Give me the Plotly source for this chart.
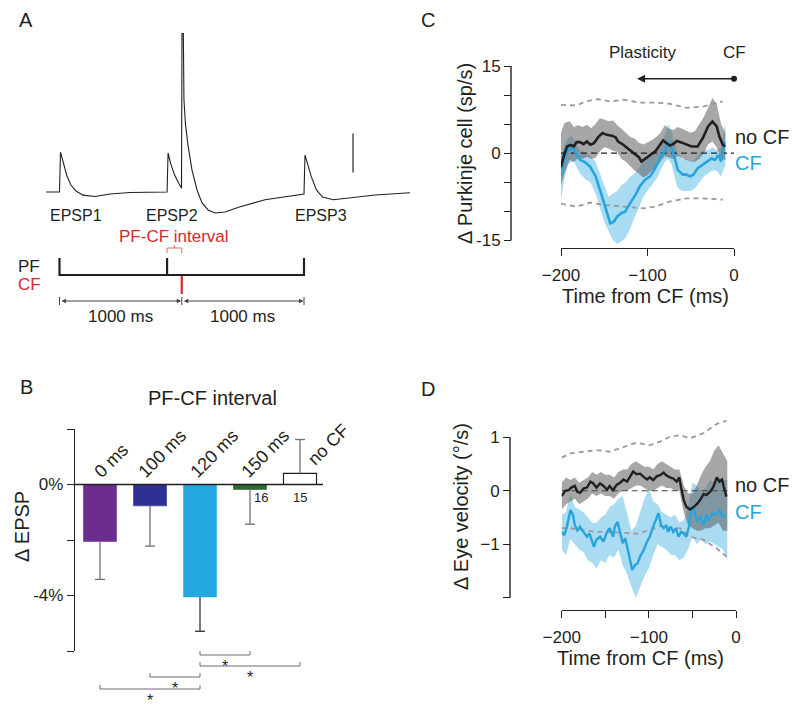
import plotly.graph_objects as go

# The page body has an 8px margin, so the figure is sized to fill the rest of the window.
OFF = 8
W, H = 800 - OFF, 710 - OFF
def fx(x): return (x - OFF) / W
def fy(y): return 1 - (y - OFF) / H

FONT = "Liberation Sans, Arial, Helvetica, sans-serif"
INK = "#231f20"
RED = "#d7282f"
BLUE = "#27a4dd"
BLUE_BAND = "#a9dcf2"
GRAY_BAND = "rgba(95,95,95,0.55)"
GRAY_DASH = "#9a9a9a"

# ---------------- data ----------------
# Panel A: example Purkinje cell recording (time in ms, potential in mV)
trace_t = [-110, 0, 8, 20, 37, 61, 94, 135, 192, 290, 413, 577, 880, 888, 908, 941, 974, 998, 1002, 1013,
           1018, 1031, 1051, 1084, 1125, 1166, 1215, 1272, 1354, 1477, 1681, 1968, 2000, 2008, 2028, 2061,
           2102, 2151, 2241, 2380, 2581, 2867]
trace_v = [0, 0, 5.1, 4.4, 3.3, 2.05, 0.9, 0.13, -0.4, -0.58, -0.26, -0.06, 0, 5.0, 3.7, 2.2, 1.15, 0.5, 20.3, 20.3,
           11.8, 8.6, 6.0, 2.8, 0.26, -1.4, -2.3, -2.7, -2.56, -1.9, -1.0, -0.4, -0.26, 4.74, 3.7, 1.9,
           0.26, -0.64, -1.0, -0.77, -0.38, -0.1]
epsp_labels = ["EPSP1", "EPSP2", "EPSP3"]
pf_times = [0, 880, 2000]
cf_times = [1000]
scale_bar_mv = 5

# Panel B: change in EPSP by PF-CF interval
intervals = ["0 ms", "100 ms", "120 ms", "150 ms", "no CF"]
epsp_change = [-2.05, -0.77, -4.05, -0.18, 0.4]
epsp_sem = [1.37, 1.45, 1.24, 1.25, 1.22]
n_labels = ["", "", "", "16", "15"]
sig_pairs = [(2, 3), (2, 4), (1, 2), (0, 2)]
b_ticks = [-6, -4, -2, 0, 2]
b_ticktext = ["", "-4%", "", "0%", ""]

# Panel C: Purkinje cell simple spikes
c_nocf_t = [-200, -197, -193, -189, -185, -182, -178, -174, -170, -166, -162, -157, -152, -147, -141, -137, -134,
            -128, -122, -116, -110, -107, -103, -97, -91, -87, -82, -78, -74, -70, -66, -61, -55, -49, -42, -36,
            -30, -25, -20, -17, -13, -10]
c_nocf_v = [-2.4, -0.6, 1.15, 1.4, 1.15, 1.9, 1.9, 1.55, 2.0, 1.45, 1.7, 2.75, 3.45, 3.15, 3.0, 2.75, 2.0,
            1.45, 0.7, 0, -0.7, -1.45, -1.0, -0.3, 0.3, 1.15, 2.2, 1.7, 1.3, 1.6, 2.1, 1.85, 1.45, 1.15, 1.15, 2.6,
            4.6, 5.45, 4.6, 2.9, 1.45, 1.15]
c_nocf_band_t = [-200, -196, -190, -185, -180, -175, -170, -165, -160, -155, -150, -145, -140, -135, -130, -125,
                 -120, -115, -110, -105, -100, -95, -90, -85, -80, -75, -70, -65, -60, -55, -50, -45, -40, -35,
                 -30, -25, -20, -15, -10]
c_nocf_hi = [3.5, 5.2, 5.5, 4.5, 4.8, 4.5, 4.9, 4.3, 5.0, 6.0, 5.8, 5.5, 5.6, 4.8, 4.2, 3.5, 2.8, 2.5, 1.8, 1.5,
             1.8, 2.2, 2.8, 3.5, 4.8, 4.2, 4.0, 4.5, 4.2, 3.8, 3.5, 3.8, 5.0, 6.2, 7.8, 9.5, 8.5, 5.0, 3.5]
c_nocf_lo = [-5.5, -3.5, -1.2, -1.5, -0.8, -1.0, -0.6, -1.0, -0.8, 0.3, 1.0, 0.8, 0.4, 0.2, -1.0, -1.5, -2.2,
             -3.0, -3.5, -4.2, -3.8, -3.0, -2.5, -1.5, -0.5, -0.8, -1.0, -0.5, -0.8, -1.2, -1.5, -1.5, -1.0, 0,
             1.5, 2.0, 1.0, -1.0, -1.2]
c_cf_t = [-200, -197, -193, -189, -185, -182, -178, -172, -166, -160, -155, -149, -143, -139, -135, -130, -126,
          -120, -114, -109, -103, -97, -91, -86, -80, -76, -72, -68, -65, -59, -55, -51, -47, -42, -36, -30, -26,
          -22, -18, -15, -11]
c_cf_v = [-3.9, -1.45, 0.3, 0.9, 0.6, -0.3, -1.15, -1.6, -2.4, -4.0, -6.3, -9.2, -12.1, -11.8, -10.9, -10.3,
          -10.1, -8.6, -7.2, -5.75, -4.6, -4.0, -2.6, -0.9, 0.3, 2.0, 0.9, -1.15, -2.9, -3.7, -3.7, -4.0, -3.7,
          -2.6, -2.0, -1.45, -0.9, -1.15, -0.3, -1.45, 2.0]
c_cf_band_t = [-200, -196, -192, -188, -185, -182, -178, -172, -166, -160, -155, -150, -145, -140, -135, -130,
               -125, -120, -115, -110, -105, -100, -95, -90, -85, -80, -76, -72, -68, -65, -60, -55, -50, -45,
               -40, -35, -30, -25, -20, -15, -10]
c_cf_hi = [-1.0, 1.5, 2.5, 3.0, 2.5, 1.5, 0.5, 0.2, -0.5, -1.5, -3.5, -5.5, -7.5, -7.0, -6.5, -5.5, -5.0, -4.0,
           -3.5, -2.5, -1.5, -1.0, -0.5, 0.5, 1.5, 3.0, 5.0, 3.5, 1.5, 0, -1.0, -1.0, -1.5, -1.0, 0, 0.5, 0.5,
           1.0, 0.5, 1.0, 5.5]
c_cf_lo = [-8.0, -4.5, -2.0, -1.5, -1.5, -2.5, -3.5, -4.5, -5.0, -7.0, -9.5, -11.8, -13.5, -15.0, -15.6, -15.2,
           -14.5, -13.0, -11.0, -9.5, -7.5, -6.5, -5.5, -4.5, -3.0, -1.5, -1.0, -2.0, -4.5, -6.0, -6.5, -6.5,
           -6.5, -6.0, -5.0, -4.0, -3.5, -3.0, -3.0, -4.0, -2.0]
c_ci_hi_t = [-200, -182, -172, -158, -143, -128, -109, -90, -74, -55, -36, -13]
c_ci_hi = [8.3, 8.2, 8.9, 9.3, 8.9, 9.2, 8.7, 8.7, 8.5, 7.8, 8.0, 8.9]
c_ci_lo_t = [-200, -182, -166, -151, -128, -105, -90, -74, -55, -36, -13]
c_ci_lo = [-8.7, -9.2, -8.5, -8.9, -9.2, -9.5, -9.2, -8.3, -7.8, -7.8, -8.0]
plasticity_window = [-112, 0]
c_yticks = [-15, -10, -5, 0, 5, 10, 15]
c_yticktext = ["-15", "", "", "0", "", "", "15"]
c_xticks = [-200, -100, 0]
c_xticktext = ["\u2212200", "\u2212100", "0"]

# Panel D: eye velocity
d_nocf_t = [-200, -196, -192, -189, -185, -182, -179, -175, -171, -167, -164, -160, -156, -152, -148, -145, -141,
            -137, -133, -129, -125, -122, -118, -114, -110, -106, -102, -99, -95, -91, -87, -83, -80, -76, -72,
            -68, -65, -63, -60, -57, -53, -49, -45, -41, -37, -34, -30, -26, -22, -19, -16, -14, -11]
d_nocf_v = [-0.10, 0, 0.01, 0.06, 0.09, -0.02, -0.04, 0.04, 0.06, 0.17, 0.14, 0.06, 0.14, 0.09, 0.02, 0.09, 0.01,
            0.11, 0.15, 0.21, 0.17, 0.26, 0.36, 0.31, 0.32, 0.26, 0.21, 0.25, 0.2, 0.27, 0.29, 0.34, 0.29, 0.25,
            0.23, 0.17, 0.25, 0.06, -0.17, -0.3, -0.35, -0.31, -0.25, -0.17, -0.06, -0.08, -0.02, 0.07, 0.25,
            0.17, 0.21, 0.07, -0.11]
d_band_t = [-200, -195, -190, -185, -180, -175, -170, -165, -160, -155, -150, -145, -140, -135, -130, -125, -120,
            -115, -110, -105, -100, -95, -90, -85, -80, -75, -70, -65, -60, -55, -50, -45, -40, -35, -30, -25,
            -20, -15, -10]
d_nocf_hi = [0.15, 0.25, 0.2, 0.25, 0.15, 0.2, 0.25, 0.35, 0.3, 0.35, 0.3, 0.3, 0.25, 0.35, 0.4, 0.4, 0.5, 0.55,
             0.5, 0.45, 0.45, 0.4, 0.5, 0.55, 0.5, 0.45, 0.4, 0.4, 0.1, -0.05, -0.05, 0.1, 0.3, 0.45, 0.55, 0.75,
             0.85, 0.7, 0.55]
d_nocf_lo = [-0.35, -0.25, -0.2, -0.15, -0.25, -0.2, -0.15, -0.05, -0.1, -0.05, -0.1, -0.1, -0.15, -0.05, 0, 0,
             0.05, 0.1, 0.1, 0.05, 0, 0, 0.05, 0.1, 0.05, 0.05, 0, 0, -0.4, -0.65, -0.7, -0.75, -0.75, -0.7, -0.7,
             -0.65, -0.6, -0.75, -0.75]
d_cf_t = [-200, -197, -194, -190, -187, -185, -182, -179, -175, -171, -168, -166, -163, -160, -156, -152, -148,
          -145, -141, -139, -136, -133, -130, -127, -125, -122, -119, -116, -113, -110, -106, -102, -99, -95, -91,
          -89, -86, -83, -80, -78, -75, -72, -69, -66, -63, -60, -57, -54, -51, -48, -45, -41, -37, -34, -31,
          -27, -23, -19, -15, -11]
d_cf_v = [-0.77, -0.83, -0.67, -0.36, -0.45, -0.64, -0.74, -0.67, -0.77, -0.86, -0.8, -0.92, -1.05, -0.91, -0.86,
          -0.95, -0.77, -0.7, -0.86, -0.67, -0.58, -0.77, -0.98, -0.89, -1.05, -1.23, -1.48, -1.39, -1.36, -1.23,
          -1.11, -0.95, -0.86, -0.67, -0.49, -0.42, -0.64, -0.7, -0.64, -0.77, -0.67, -0.77, -0.7, -0.86, -0.77,
          -0.8, -0.86, -0.67, -0.3, -0.36, -0.55, -0.49, -0.64, -0.45, -0.55, -0.42, -0.45, -0.36, -0.49, -0.45]
d_cf_hi = [-0.45, -0.4, -0.05, -0.3, -0.35, -0.4, -0.5, -0.6, -0.6, -0.5, -0.45, -0.3, -0.25, -0.15, -0.1, -0.45,
           -0.75, -0.65, -0.4, -0.15, 0.05, -0.2, -0.25, -0.4, -0.45, -0.5, -0.45, -0.6, -0.55, -0.3, 0.15, 0.1,
           0.0, 0.05, 0.2, 0.15, 0.25, 0.2, 0.2]
d_cf_lo = [-1.1, -1.2, -0.9, -1.0, -1.1, -1.15, -1.3, -1.35, -1.45, -1.3, -1.35, -1.2, -1.25, -1.1, -1.4, -1.55,
           -1.8, -2.0, -1.8, -1.6, -1.45, -1.2, -1.0, -1.05, -1.1, -1.2, -1.2, -1.3, -1.25, -1.1, -0.85, -1.0,
           -0.9, -1.0, -0.95, -1.0, -1.05, -1.1, -1.3]
d_ci_t = [-200, -190, -175, -160, -145, -129, -114, -99, -87, -76, -64, -53, -37, -22, -11]
d_ci_hi = [0.62, 0.70, 0.73, 0.76, 0.73, 0.82, 0.9, 0.85, 0.92, 1.01, 1.04, 0.98, 1.08, 1.25, 1.31]
d_ci_lo = [-0.70, -0.70, -0.74, -0.77, -0.77, -0.78, -0.8, -0.74, -0.66, -0.7, -0.7, -0.86, -0.92, -1.08, -1.23]
d_yticks = [-2, -1, 0, 1]
d_yticktext = ["", "\u22121", "0", "1"]
d_xticks = [-200, -150, -100, -50, 0]
d_xticktext = ["\u2212200", "", "\u2212100", "", "0"]

bar_colors = ["#6b2d8e", "#2e3191", "#25a8e0", "#2d6a32", "#ffffff"]
err_colors = ["#707070", "#707070", "#333333", "#707070", "#707070"]

# ---------------- figure ----------------
fig = go.Figure()
ann = []
shapes = []

def txt(x, y, s, size=17, color=INK, xref="paper", yref="paper", **kw):
    d = dict(x=x, y=y, text=s, showarrow=False, xref=xref, yref=yref, xanchor="center", yanchor="middle",
             font=dict(family=FONT, size=size, color=color))
    d.update(kw)
    ann.append(d)

# ---- Panel A trace
fig.add_trace(go.Scatter(x=trace_t, y=trace_v, mode="lines", xaxis="x", yaxis="y",
                         line=dict(color=INK, width=1.1), hoverinfo="skip"))
sb_t = 2401
fig.add_trace(go.Scatter(x=[sb_t, sb_t], y=[2.5, 2.5 + scale_bar_mv], mode="lines", xaxis="x", yaxis="y",
                         line=dict(color=INK, width=1.2), hoverinfo="skip"))
for lab, xp in zip(epsp_labels, [76, 172, 321]):
    txt(fx(xp), fy(215), lab, size=16)

# ---- Panel A timeline (y2 values are vertical pixel rows)
ROW_PF, ROW_CF0, ROW_CF1, ROW_AR = 275, 276, 294, 301
fig.add_trace(go.Scatter(x=[pf_times[0], pf_times[-1]], y=[ROW_PF, ROW_PF], mode="lines", xaxis="x", yaxis="y2",
                         line=dict(color=INK, width=2.2), hoverinfo="skip"))
tx, ty = [], []
for t in pf_times:
    tx += [t, t, None]; ty += [258, ROW_PF + 1, None]
fig.add_trace(go.Scatter(x=tx, y=ty, mode="lines", xaxis="x", yaxis="y2",
                         line=dict(color=INK, width=2.2), hoverinfo="skip"))
cx, cy = [], []
for t in cf_times:
    cx += [t, t, None]; cy += [ROW_CF0, ROW_CF1, None]
fig.add_trace(go.Scatter(x=cx, y=cy, mode="lines", xaxis="x", yaxis="y2",
                         line=dict(color=RED, width=2.2), hoverinfo="skip"))
# PF-CF interval bracket
p2, c1 = pf_times[1], cf_times[0]
fig.add_trace(go.Scatter(x=[p2, p2, c1, c1, None, (p2 + c1) / 2, (p2 + c1) / 2],
                         y=[253, 248, 248, 253, None, 248, 245], mode="lines", xaxis="x", yaxis="y2",
                         line=dict(color="#e26a6a", width=1), hoverinfo="skip"))
txt((p2 + c1) / 2, 237, "PF-CF interval", size=17, color=RED, xref="x", yref="y2")
txt(fx(29), 267, "PF", size=17, yref="y2")
txt(fx(29), 285, "CF", size=17, color=RED, yref="y2")
# interval arrows
segs = [(pf_times[0], cf_times[0]), (cf_times[0], pf_times[-1])]
ex, ey = [], []
for a, b in segs:
    ann.append(dict(x=b - 4, y=ROW_AR, ax=a + 4, ay=ROW_AR, xref="x", yref="y2", axref="x", ayref="y2",
                    text="", showarrow=True, arrowhead=2, arrowside="end+start", arrowsize=0.9,
                    arrowwidth=1, arrowcolor="#444444"))
    txt((a + b) / 2, 317, f"{b - a} ms", size=17, xref="x", yref="y2")
for t in [pf_times[0], cf_times[0], pf_times[-1]]:
    ex += [t, t, None]; ey += [297, 305, None]
fig.add_trace(go.Scatter(x=ex, y=ey, mode="lines", xaxis="x", yaxis="y2",
                         line=dict(color="#444444", width=1), hoverinfo="skip"))

# ---- Panel B bars
xi = list(range(len(intervals)))
fig.add_trace(go.Bar(x=xi, y=epsp_change, width=0.66, xaxis="x2", yaxis="y3",
                     marker=dict(color=bar_colors, line=dict(color=[c if c != "#ffffff" else INK for c in bar_colors],
                                                             width=[0.6, 0.6, 0.6, 0.6, 1.2])),
                     hoverinfo="skip"))
for i, (v, s) in enumerate(zip(epsp_change, epsp_sem)):
    end = v + s if v > 0 else v - s
    fig.add_trace(go.Scatter(x=[i, i, None, i - 0.1, i + 0.1], y=[v, end, None, end, end], mode="lines",
                             xaxis="x2", yaxis="y3", line=dict(color=err_colors[i], width=1.3),
                             hoverinfo="skip", cliponaxis=False))
shapes.append(dict(type="line", xref="x2 domain", yref="y3", x0=0, x1=1, y0=0, y1=0,
                   line=dict(color=INK, width=1.5)))
lab_pos = [(111, 461), (162, 454), (214, 454), (265, 454), (328, 445)]
for lab, (xp, yp) in zip(intervals, lab_pos):
    txt(fx(xp), fy(yp), lab, size=18, textangle=-45)
for i, n in enumerate(n_labels):
    if n:
        txt(i, fy(497), n, size=13, xref="x2", xshift=11 if epsp_change[i] < 0 else 0)
levels = [655, 666, 677, 689]
for (a, b), lv in zip(sig_pairs, levels):
    for x0, y0, x1, y1 in [(a, fy(lv), b, fy(lv)), (a, fy(lv), a, fy(lv - 4)), (b, fy(lv), b, fy(lv - 4))]:
        shapes.append(dict(type="line", xref="x2", yref="paper", x0=x0, y0=y0, x1=x1, y1=y1,
                           line=dict(color="#6d6d6d", width=1)))
    txt((a + b) / 2, fy(lv + 1), "*", size=16, xref="x2", yanchor="top")
txt(fx(213), fy(398), "PF-CF interval", size=20)
txt(fx(22), fy(527), "\u0394 EPSP", size=20, textangle=-90)

# ---- Panel C
def band(t, hi, lo, color, xa, ya):
    fig.add_trace(go.Scatter(x=list(t) + list(t)[::-1], y=list(hi) + list(lo)[::-1], fill="toself",
                             fillcolor=color, line=dict(width=0), mode="lines", xaxis=xa, yaxis=ya,
                             hoverinfo="skip"))

def line(t, v, color, width, xa, ya, dash=None):
    fig.add_trace(go.Scatter(x=t, y=v, mode="lines", xaxis=xa, yaxis=ya,
                             line=dict(color=color, width=width, dash=dash), hoverinfo="skip"))

band(c_cf_band_t, c_cf_hi, c_cf_lo, BLUE_BAND, "x3", "y4")
band(c_nocf_band_t, c_nocf_hi, c_nocf_lo, GRAY_BAND, "x3", "y4")
line(c_ci_hi_t, c_ci_hi, GRAY_DASH, 1.8, "x3", "y4", dash="5px,4px")
line(c_ci_lo_t, c_ci_lo, GRAY_DASH, 1.8, "x3", "y4", dash="5px,4px")
line([-200, 0], [0, 0], INK, 1.2, "x3", "y4", dash="6px,4px")
line(c_cf_t, c_cf_v, BLUE, 2.6, "x3", "y4")
line(c_nocf_t, c_nocf_v, INK, 2.6, "x3", "y4")
shapes.append(dict(type="line", xref="paper", yref="y4", x0=fx(511), x1=fx(511), y0=c_yticks[0], y1=c_yticks[-1],
                   line=dict(color=INK, width=1.4)))
# plasticity arrow
pw_y = 12.8
ann.append(dict(x=plasticity_window[0], y=pw_y, ax=plasticity_window[1], ay=pw_y, xref="x3", yref="y4",
                axref="x3", ayref="y4", text="", showarrow=True, arrowhead=2, arrowsize=1, arrowwidth=1.6,
                arrowcolor=INK))
fig.add_trace(go.Scatter(x=[plasticity_window[1]], y=[pw_y], mode="markers", xaxis="x3", yaxis="y4",
                         marker=dict(color=INK, size=6), cliponaxis=False, hoverinfo="skip"))
txt(-105, fy(53), "Plasticity", size=17, xref="x3")
txt(0, fy(53), "CF", size=17, xref="x3")
txt(fx(733), fy(137), "no CF", size=20, xanchor="left")
txt(fx(733), fy(163), "CF", size=20, color=BLUE, xanchor="left")
txt(fx(465), fy(154), "\u0394 Purkinje cell (sp/s)", size=20, textangle=-90)
txt(fx(645), fy(296), "Time from CF (ms)", size=20)

# ---- Panel D
band(d_band_t, d_cf_hi, d_cf_lo, BLUE_BAND, "x4", "y5")
band(d_band_t, d_nocf_hi, d_nocf_lo, GRAY_BAND, "x4", "y5")
line(d_ci_t, d_ci_hi, GRAY_DASH, 1.8, "x4", "y5", dash="5px,4px")
line(d_ci_t, d_ci_lo, GRAY_DASH, 1.8, "x4", "y5", dash="5px,4px")
line([-200, -10], [0, 0], "#444444", 1.2, "x4", "y5", dash="6px,4px")
line(d_cf_t, d_cf_v, BLUE, 2.4, "x4", "y5")
line(d_nocf_t, d_nocf_v, INK, 2.4, "x4", "y5")
shapes.append(dict(type="line", xref="paper", yref="y5", x0=fx(510), x1=fx(510), y0=d_yticks[0], y1=d_yticks[-1],
                   line=dict(color=INK, width=1.4)))
txt(fx(733), fy(485), "no CF", size=20, xanchor="left")
txt(fx(733), fy(512), "CF", size=20, color=BLUE, xanchor="left")
txt(fx(461), fy(507), "\u0394 Eye velocity (\u00b0/s)", size=20, textangle=-90)
txt(fx(640), fy(658), "Time from CF (ms)", size=20)

# panel letters
txt(fx(26), fy(8), "A", size=20, yanchor="top", borderpad=0)
txt(fx(428), fy(8), "C", size=20, yanchor="top", borderpad=0)
txt(fx(26), fy(387), "B", size=20)
txt(fx(428), fy(389), "D", size=20)

tickfont = dict(family=FONT, size=17, color=INK)
hidden = dict(visible=False, showgrid=False, zeroline=False, automargin=False)
axcommon = dict(showgrid=False, zeroline=False, automargin=False, ticks="outside", ticklen=7, tickwidth=1.4,
                tickcolor=INK, tickfont=tickfont)
fig.update_layout(
    template="none",
    width=W, height=H, autosize=False, margin=dict(l=0, r=0, t=0, b=0, pad=0, autoexpand=False),
    paper_bgcolor="white", plot_bgcolor="rgba(0,0,0,0)", showlegend=False,
    font=dict(family=FONT, color=INK),
    # Panel A
    xaxis=dict(domain=[fx(45), fx(412)], range=[(45 - 59.5) * 8.18, (412 - 59.5) * 8.18], **hidden),
    yaxis=dict(domain=[fy(220), fy(30)], range=[(192 - 220) / 7.8, (192 - 30) / 7.8], anchor="x", **hidden),
    yaxis2=dict(domain=[fy(335), fy(228)], range=[335, 228], anchor="x", **hidden),
    # Panel B
    xaxis2=dict(domain=[fx(75), fx(323)], range=[-0.5, 4.46], anchor="y3", **hidden),
    yaxis3=dict(domain=[fy(651), fy(429)], range=[-6, 2], anchor="x2", showline=True, linecolor=INK,
                linewidth=1.4, tickvals=b_ticks, ticktext=b_ticktext, **axcommon),
    # Panel C
    xaxis3=dict(domain=[fx(561), fx(734)], range=[-200, 0], anchor="free", position=fy(248), showline=True,
                linecolor=INK, linewidth=1.4, tickvals=c_xticks, ticktext=c_xticktext, ticklabelstandoff=4,
                **axcommon),
    yaxis4=dict(domain=[fy(153.3 + 16 * 5.8), fy(66)], range=[-16, 15], anchor="free", position=fx(511),
                showline=False, tickvals=c_yticks, ticktext=c_yticktext, **axcommon),
    # Panel D
    xaxis4=dict(domain=[fx(561.7), fx(736)], range=[-200, 0], anchor="free", position=fy(610), showline=True,
                linecolor=INK, linewidth=1.4, tickvals=d_xticks, ticktext=d_xticktext, ticklabelstandoff=4,
                **axcommon),
    yaxis5=dict(domain=[fy(597.7 + 0.1 * 53.47), fy(437.3 - 0.35 * 53.47)], range=[-2.1, 1.35], anchor="free",
                position=fx(510), showline=False, tickvals=d_yticks, ticktext=d_yticktext, **axcommon),
    annotations=ann, shapes=shapes,
)

fig.write_html("out.html")
